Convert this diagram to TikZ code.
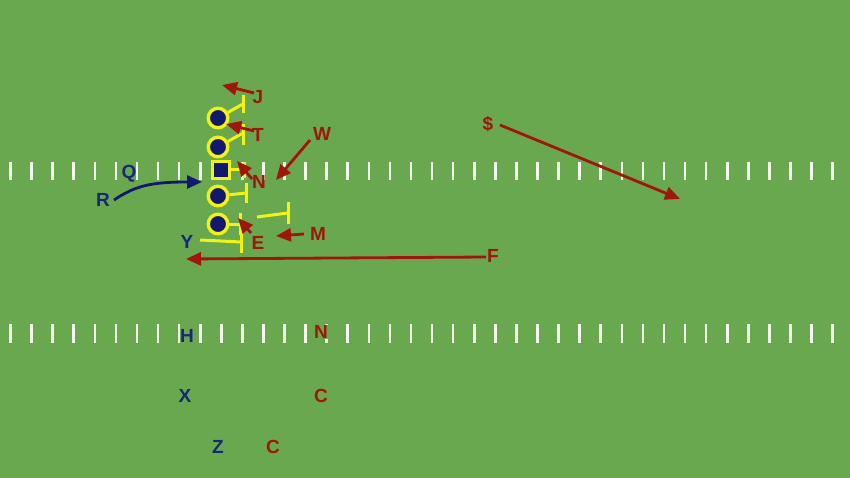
\documentclass[tikz,border=0pt]{standalone}
\usepackage{fontspec}
\setmainfont{Liberation Sans}
\usetikzlibrary{arrows.meta,calc}
\definecolor{field}{RGB}{106,168,79}
\definecolor{offy}{RGB}{242,242,20}
\definecolor{navy}{RGB}{18,24,110}
\definecolor{defred}{RGB}{158,22,12}
\definecolor{offblue}{RGB}{22,40,118}
\definecolor{hashw}{RGB}{245,250,238}
\tikzset{
  lbl/.style={font=\fontsize{19}{19}\selectfont\bfseries, inner sep=0pt},
  redlbl/.style={lbl, text=defred},
  bluelbl/.style={lbl, text=offblue},
  hashmark/.style={draw=hashw, line width=2.6pt},
  player/.style={circle, draw=offy, fill=navy, line width=3.4pt, minimum size=19.5pt, inner sep=0pt},
  center/.style={rectangle, draw=offy, fill=navy, line width=3.4pt, minimum size=17pt, inner sep=0pt},
  blockline/.style={draw=offy, line width=3pt},
  redarrow/.style={draw=defred, line width=2.8pt, -{Triangle[length=15pt,width=13pt]}},
  bluearrow/.style={draw=navy, line width=2.8pt, -{Triangle[length=15pt,width=13pt]}}
}
\begin{document}
\begin{tikzpicture}[x=1pt,y=-1pt]
\fill[field] (0,0) rectangle (850,478);
\useasboundingbox (0,0) rectangle (850,478);
% hash marks
\foreach \k in {0,...,39}{
  \draw[hashmark] ({10.5+21.08*\k},162) -- ({10.5+21.08*\k},180);
  \draw[hashmark] ({10.5+21.08*\k},324) -- ({10.5+21.08*\k},343);
}
% offensive line
\node[player] (p1) at (218,118) {};
\node[player] (p2) at (218,147) {};
\node[center] (c0) at (221,170) {};
\node[player] (p3) at (218,196) {};
\node[player] (p4) at (218,224) {};
% block coordinates
\coordinate (b1) at (243,104);
\coordinate (b2) at (243,133);
\coordinate (b0) at (244,170);
\coordinate (b3) at (246,193);
\coordinate (b4) at (240,224);
\coordinate (by) at (241,242);
\coordinate (ym) at (200,240);
\coordinate (mb1) at (257,217);
\coordinate (mb2) at (288,213);
% blocks
\draw[blockline] (p1) -- (b1);
\draw[blockline] ($(b1)+(0,-9)$) -- ($(b1)+(0,9)$);
\draw[blockline] (p2) -- (b2);
\draw[blockline] ($(b2)+(0,-9)$) -- ($(b2)+(0,12)$);
\draw[blockline] (c0.east) -- (b0);
\draw[blockline] ($(b0)+(0,-8)$) -- ($(b0)+(0,8)$);
\draw[blockline] (p3) -- (b3);
\draw[blockline] ($(b3)+(0,-10)$) -- ($(b3)+(0,10)$);
\draw[blockline] (p4) -- (b4);
\draw[blockline] ($(b4)+(0,-11)$) -- ($(b4)+(0,11)$);
\draw[blockline] (ym) -- (by);
\draw[blockline] ($(by)+(0,-10)$) -- ($(by)+(0,11)$);
\draw[blockline] (mb1) -- (mb2);
\draw[blockline] ($(mb2)+(0,-11)$) -- ($(mb2)+(0,11)$);
% labels
\node[redlbl] (J) at (258,97) {J};
\node[redlbl] (T) at (258,135) {T};
\node[redlbl] (N1) at (259,182) {N};
\node[redlbl] (W) at (322,134) {W};
\node[redlbl] (M) at (318,234) {M};
\node[redlbl] (E) at (258,243) {E};
\node[redlbl] (F) at (493,256) {F};
\node[redlbl] (S) at (488,124) {\$};
\node[redlbl, fill=field] (N2) at (321,332) {N};
\node[redlbl] (C1) at (321,396) {C};
\node[redlbl] (C2) at (273,447) {C};
\node[bluelbl] (Y) at (187,242) {Y};
\node[bluelbl] (Q) at (129,174) {Q};
\node[bluelbl] (R) at (103,200) {R};
\node[bluelbl, fill=field] (H) at (187,336) {H};
\node[bluelbl] (X) at (185,396) {X};
\node[bluelbl] (Z) at (218,447) {Z};
% arrow ends
\coordinate (jt) at (254,93);   \coordinate (jh) at (222,85);
\coordinate (tt) at (254,131);  \coordinate (th) at (226,124);
\coordinate (nt) at (252,179);  \coordinate (nh) at (237,161);
\coordinate (wt) at (310,140);  \coordinate (wh) at (276,180);
\coordinate (et) at (251,233);  \coordinate (eh) at (238,218);
\coordinate (mt) at (304,234);  \coordinate (mh) at (276,236);
\coordinate (ft) at (486,257);  \coordinate (fh) at (186,259);
\coordinate (st) at (500,125);  \coordinate (sh) at (680,199);
\coordinate (rt) at (114,200);  \coordinate (rh) at (202,182);
% red arrows
\draw[redarrow] (jt) -- (jh);
\draw[redarrow] (tt) -- (th);
\draw[redarrow] (nt) -- (nh);
\draw[redarrow] (wt) -- (wh);
\draw[redarrow] (et) -- (eh);
\draw[redarrow] (mt) -- (mh);
\draw[redarrow] (ft) -- (fh);
\draw[redarrow] (st) -- (sh);
% blue motion
\draw[bluearrow] (rt) .. controls (135,186) and (150,182) .. (rh);
\end{tikzpicture}
\end{document}
